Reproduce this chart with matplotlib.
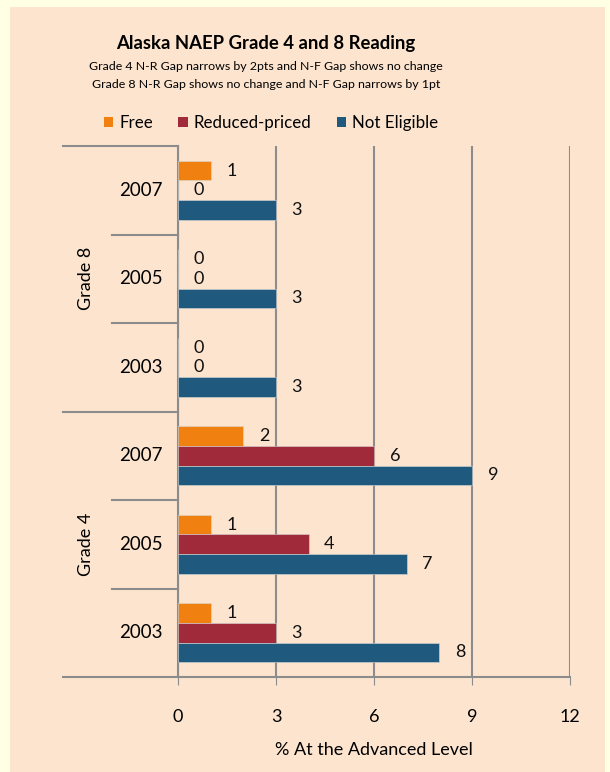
import matplotlib
matplotlib.use('Agg')
import matplotlib.pyplot as plt
import matplotlib.transforms as mtransforms
from matplotlib.patches import Patch
import numpy as np

plt.rcParams['font.family'] = ['Lato', 'DejaVu Sans']

# Data (top to bottom as shown)
grades = ['Grade 8', 'Grade 4']
years = ['2007', '2005', '2003', '2007', '2005', '2003']
series_names = ['Free', 'Reduced-priced', 'Not Eligible']
free = [1, 0, 0, 2, 1, 1]
reduced = [0, 0, 0, 6, 4, 3]
not_eligible = [3, 3, 3, 9, 7, 8]
x_ticks = [0, 3, 6, 9, 12]

colors = ['#F0800F', '#A0293A', '#1F5A7E']
bg = '#FCE4CF'
grid_col = '#8C8C8C'

fig = plt.figure(figsize=(6.1, 7.72), dpi=100)
fig.patch.set_facecolor('#FFFFE3')
# chart area panel
fig.patches.append(plt.Rectangle((10 / 610, 0), 595 / 610, 1 - 7 / 772,
                                 transform=fig.transFigure, facecolor=bg,
                                 edgecolor='none', zorder=-10))

ax = fig.add_axes([178 / 610, 1 - 677 / 772, 392 / 610, 531 / 772])
ax.set_facecolor(bg)

n = len(years)
centers = np.arange(n)[::-1] + 0.5   # top category at top
bh = 0.222
for vals, col, off in zip([free, reduced, not_eligible], colors, [bh, 0, -bh]):
    ax.barh(centers + off, vals, height=bh, color=col,
            edgecolor='#D8D8D8', linewidth=0.4, zorder=3)
    for y, v in zip(centers + off, vals):
        ax.annotate(str(v), (v, y), xytext=(15, 0), textcoords='offset points',
                    ha='center', va='center', fontsize=13, color='#111111')

ax.set_xlim(0, 12)
ax.set_ylim(0, n)
ax.set_xticks(x_ticks)
ax.set_xticklabels([str(t) for t in x_ticks], fontsize=13)
ax.tick_params(axis='x', length=6, color=grid_col, pad=17)
ax.set_yticks([])
ax.grid(axis='x', color=grid_col, linewidth=1.5, zorder=1)
for s in ['top', 'right']:
    ax.spines[s].set_visible(False)
ax.spines['left'].set_color(grid_col)
ax.spines['left'].set_linewidth(1.5)
ax.spines['bottom'].set_color(grid_col)
ax.spines['bottom'].set_linewidth(1.5)
ax.set_xlabel('% At the Advanced Level', fontsize=13, labelpad=12)

# category labels and separators
trans = mtransforms.blended_transform_factory(ax.transAxes, ax.transData)
ax_w = 392
for i, yr in enumerate(years):
    ax.text(-37 / ax_w, centers[i], yr, transform=trans, ha='center',
            va='center', fontsize=13.5)
for b in range(n + 1):
    x0 = -115 / ax_w if b % 3 == 0 else -66 / ax_w
    ax.plot([x0, 0], [b, b], transform=trans, color=grid_col, lw=1.5,
            clip_on=False, zorder=2)
for g, name in enumerate(grades):
    yc = n - (g * 3 + 1.5)
    ax.text(-92 / ax_w, yc, name, transform=trans, ha='center', va='center',
            rotation=90, fontsize=13)

# titles
cx = 266 / 610
fig.text(cx, 1 - 44 / 772, 'Alaska NAEP Grade 4 and 8 Reading', ha='center',
         va='center', fontsize=13.3, fontweight='bold')
fig.text(cx, 1 - 66 / 772,
         'Grade 4 N-R Gap narrows by 2pts and N-F Gap shows no change',
         ha='center', va='center', fontsize=8.9)
fig.text(cx, 1 - 85 / 772,
         'Grade 8 N-R Gap shows no change and N-F Gap narrows by 1pt',
         ha='center', va='center', fontsize=8.9)

handles = [Patch(facecolor=c, edgecolor='none') for c in colors]
fig.legend(handles, series_names, loc='center',
           bbox_to_anchor=(271 / 610, 1 - 123 / 772),
           ncol=3, frameon=False, fontsize=12.2, handlelength=0.55,
           handleheight=0.55, handletextpad=0.35, columnspacing=1.5,
           borderaxespad=0, borderpad=0)

fig.savefig('out.png', dpi=100, facecolor=fig.get_facecolor())
